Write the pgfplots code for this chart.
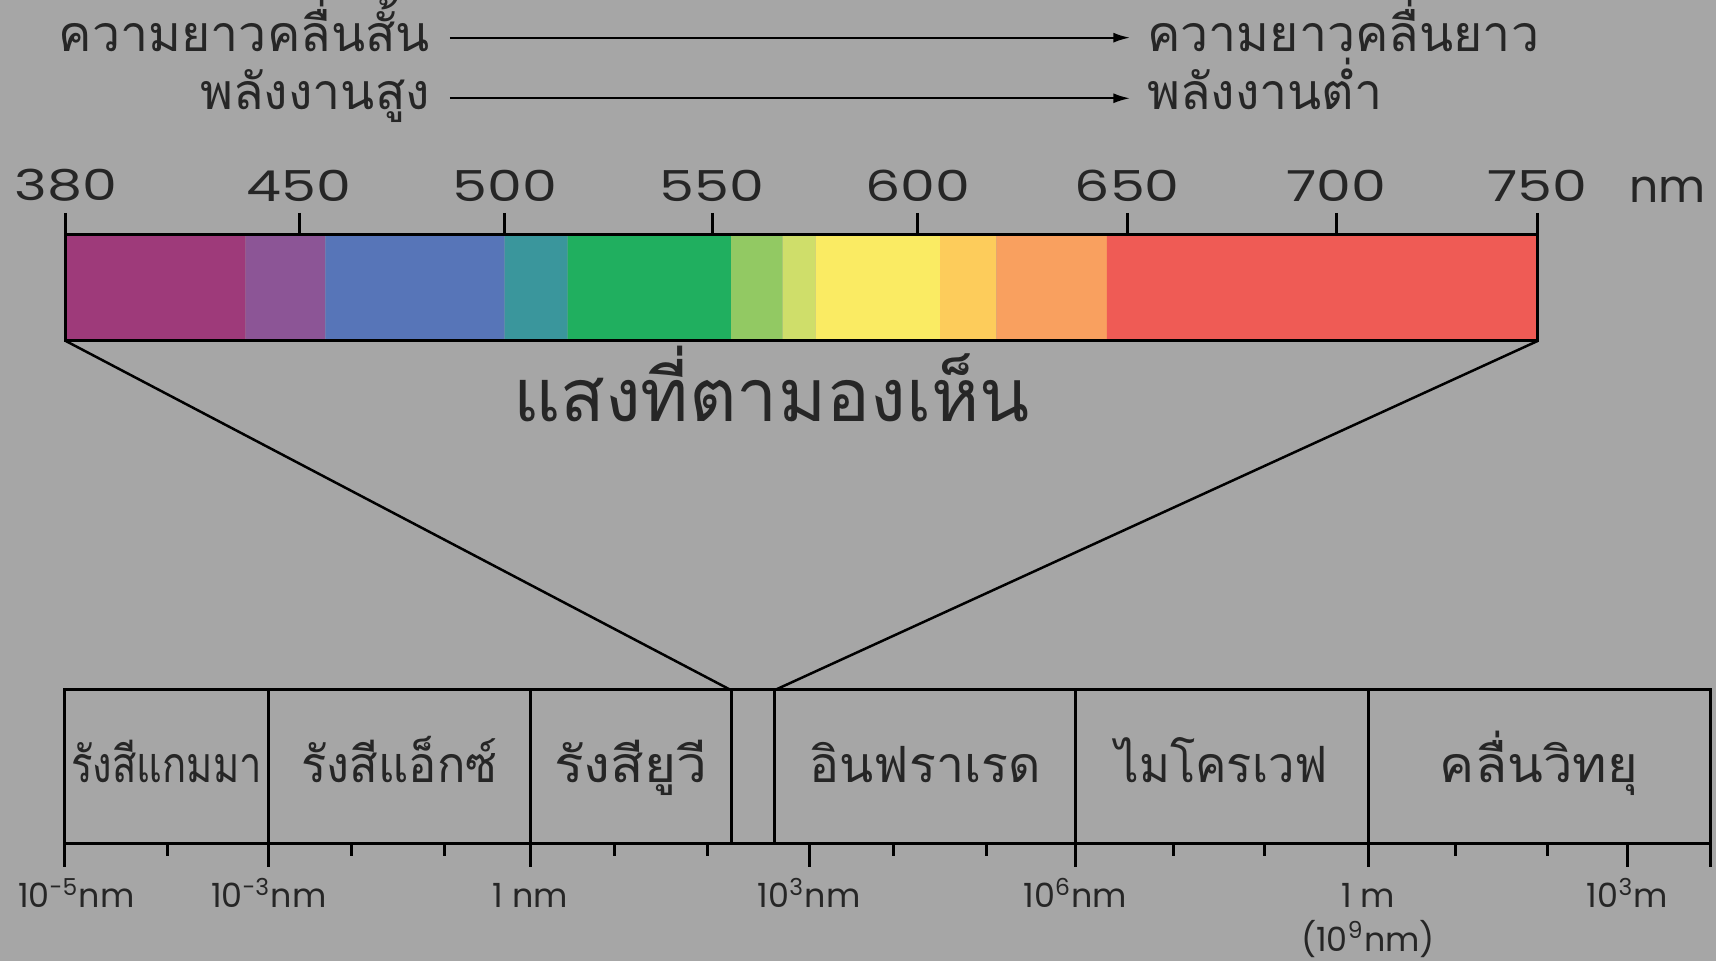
\documentclass[border=0pt]{standalone}
\usepackage{pgfplots}
\pgfplotsset{compat=1.18}
\usepackage{fontspec}
\setmainfont{Poppins}
\newfontfamily\numfont[FakeStretch=1.3]{Poppins}
\newfontfamily\thai[Script=Thai]{Loma}
\usetikzlibrary{arrows.meta}

\definecolor{bg}{RGB}{166,166,166}
\definecolor{c1}{RGB}{158,58,122}
\definecolor{c2}{RGB}{140,85,150}
\definecolor{c3}{RGB}{87,117,184}
\definecolor{c4}{RGB}{58,150,156}
\definecolor{c5}{RGB}{32,175,95}
\definecolor{c6}{RGB}{146,201,99}
\definecolor{c7}{RGB}{207,222,106}
\definecolor{c8}{RGB}{250,235,99}
\definecolor{c9}{RGB}{253,204,91}
\definecolor{c10}{RGB}{249,160,95}
\definecolor{c11}{RGB}{239,91,85}

% one unit = one pixel of the 1716x961 picture
\pgfplotsset{px/.style={x=0.3pt, y=0.3pt, anchor=south west}}
\newcommand{\thl}{\thai\fontsize{15}{17}\selectfont}
\tikzset{lbl/.style={inner sep=0pt, text=black!85}}

\begin{document}
\begin{tikzpicture}
% background, arrows, funnel and free labels
\begin{axis}[px, at={(0pt,0pt)}, xmin=0, xmax=1716, ymin=0, ymax=961,
    hide axis, clip=false]
  \addplot[fill=bg, draw=none] coordinates {(0,0) (0,961) (1716,961) (1716,0)} \closedcycle;
  \addplot[-{Latex[length=5pt,width=3pt]}, line width=0.6pt] coordinates {(449.8,923.3) (1130,923.3)};
  \addplot[-{Latex[length=5pt,width=3pt]}, line width=0.6pt] coordinates {(449.8,862.7) (1130,862.7)};
  \addplot[line width=0.75pt] coordinates {(65.8,620) (730.7,271)};
  \addplot[line width=0.75pt] coordinates {(1537.6,620) (775,271)};
  \node[lbl, anchor=base east, font=\thl] at (axis cs:430.6,909) {ความยาวคลื่นสั้น};
  \node[lbl, anchor=base east, font=\thl] at (axis cs:430.6,851) {พลังงานสูง};
  \node[lbl, anchor=base west, font=\thl] at (axis cs:1146.6,909) {ความยาวคลื่นยาว};
  \node[lbl, anchor=base west, font=\thl] at (axis cs:1146.6,851) {พลังงานต่ำ};
  \node[lbl, anchor=base, font=\thai\fontsize{22}{24}\selectfont] at (axis cs:771.5,539) {แสงที่ตามองเห็น};
  \node[lbl, anchor=base west, font=\fontsize{13.7}{15}\selectfont] at (axis cs:1629,758.3) {nm};
\end{axis}

% visible spectrum bar
\begin{axis}[px, at={(65.8*0.3pt,620*0.3pt)},
    xmin=65.8, xmax=1537.6, ymin=620, ymax=726,
    axis on top, axis line style={line width=0.9pt},
    ytick=\empty, xtick pos=right, xticklabel pos=right,
    tick align=outside, major tick length=6.6pt,
    major tick style={line width=0.9pt, black},
    xtick={65.8,299,504.6,712,917.9,1127.3,1336,1537.6},
    xticklabels={380,450,500,550,600,650,700,750},
    xticklabel style={font=\numfont\fontsize{12.8}{15}\selectfont, text=black!85}]
  \addplot[fill=c1, draw=none] coordinates {(65.8,620) (65.8,726) (245.7,726) (245.7,620)} \closedcycle;
  \addplot[fill=c2, draw=none] coordinates {(245.7,620) (245.7,726) (325.3,726) (325.3,620)} \closedcycle;
  \addplot[fill=c3, draw=none] coordinates {(325.3,620) (325.3,726) (504.6,726) (504.6,620)} \closedcycle;
  \addplot[fill=c4, draw=none] coordinates {(504.6,620) (504.6,726) (567.7,726) (567.7,620)} \closedcycle;
  \addplot[fill=c5, draw=none] coordinates {(567.7,620) (567.7,726) (731.2,726) (731.2,620)} \closedcycle;
  \addplot[fill=c6, draw=none] coordinates {(731.2,620) (731.2,726) (782.7,726) (782.7,620)} \closedcycle;
  \addplot[fill=c7, draw=none] coordinates {(782.7,620) (782.7,726) (815.6,726) (815.6,620)} \closedcycle;
  \addplot[fill=c8, draw=none] coordinates {(815.6,620) (815.6,726) (940,726) (940,620)} \closedcycle;
  \addplot[fill=c9, draw=none] coordinates {(940,620) (940,726) (996.4,726) (996.4,620)} \closedcycle;
  \addplot[fill=c10, draw=none] coordinates {(996.4,620) (996.4,726) (1106.8,726) (1106.8,620)} \closedcycle;
  \addplot[fill=c11, draw=none] coordinates {(1106.8,620) (1106.8,726) (1537.6,726) (1537.6,620)} \closedcycle;
\end{axis}

% electromagnetic spectrum
\begin{axis}[px, at={(64.7*0.3pt,117*0.3pt)},
    xmin=64.7, xmax=1710, ymin=117, ymax=271,
    axis line style={line width=0.9pt},
    ytick=\empty, xtick pos=left, tick align=outside,
    major tick length=6.8pt, minor tick length=3.5pt,
    major tick style={line width=0.9pt, black},
    minor tick style={line width=0.9pt, black},
    xtick={64.7,268.8,530.4,809,1075.3,1368,1627.6,1710},
    xticklabels={\hspace*{7pt}10\textsuperscript{-5}nm, 10\textsuperscript{-3}nm,
      \vphantom{10\textsuperscript{3}}1 nm,
      10\textsuperscript{3}nm, 10\textsuperscript{6}nm,
      \vphantom{10\textsuperscript{3}}1 m\\(10\textsuperscript{9}nm),
      10\textsuperscript{3}m, {}},
    minor xtick={167.3,351.6,444.8,614.3,707.6,893,986.4,1173,1264.2,1455.9,1547},
    xticklabel style={font=\fontsize{10}{13}\selectfont, align=center, text=black!85}]
  \addplot[line width=0.9pt] coordinates {(268.8,117) (268.8,271)};
  \addplot[line width=0.9pt] coordinates {(530.4,117) (530.4,271)};
  \addplot[line width=0.9pt] coordinates {(731.2,117) (731.2,271)};
  \addplot[line width=0.9pt] coordinates {(774.5,117) (774.5,271)};
  \addplot[line width=0.9pt] coordinates {(1075.3,117) (1075.3,271)};
  \addplot[line width=0.9pt] coordinates {(1368,117) (1368,271)};
  \node[lbl, anchor=base, font=\thl] at (axis cs:166.7,178) {\scalebox{0.8}[1]{รังสีแกมมา}};
  \node[lbl, anchor=base, font=\thl] at (axis cs:399.6,178) {\scalebox{0.94}[1]{รังสีแอ็กซ์}};
  \node[lbl, anchor=base, font=\thl] at (axis cs:630.8,178) {\scalebox{1.1}[1]{รังสียูวี}};
  \node[lbl, anchor=base, font=\thl] at (axis cs:925,178) {อินฟราเรด};
  \node[lbl, anchor=base, font=\thl] at (axis cs:1221.6,178) {\scalebox{0.94}[1]{ไมโครเวฟ}};
  \node[lbl, anchor=base, font=\thl] at (axis cs:1539,178) {\scalebox{1.05}[1]{คลื่นวิทยุ}};
\end{axis}
\pgfresetboundingbox
\useasboundingbox (0pt,0pt) rectangle (514.8pt,288.3pt);
\end{tikzpicture}
\end{document}
